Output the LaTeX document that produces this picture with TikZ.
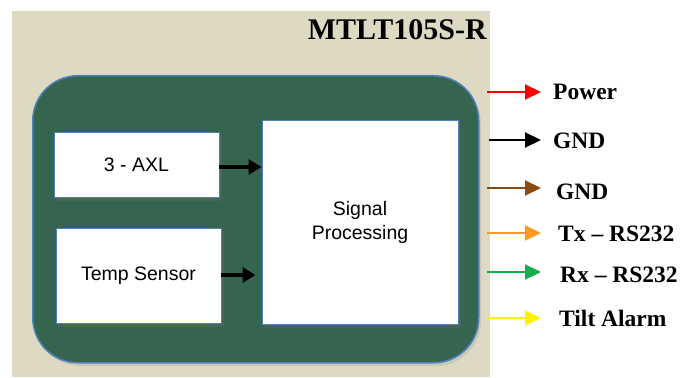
\documentclass[tikz,border=0pt]{standalone}
\usepackage{fontspec}
\setmainfont{Liberation Serif}
\setsansfont{Liberation Sans}
\usetikzlibrary{arrows.meta}
\definecolor{beige}{HTML}{DDD9C3}
\definecolor{dgreen}{HTML}{36654F}
\definecolor{bblue}{HTML}{4F81BD}
\definecolor{cbrown}{HTML}{8B4A14}
\definecolor{corange}{HTML}{FF9A1E}
\definecolor{cgreen}{HTML}{14B050}
\definecolor{cyellow}{HTML}{FFF200}
\tikzset{
  blk/.style={draw=bblue, line width=1pt, fill=white, inner sep=0pt,
    font=\sffamily\fontsize{19.5}{23}\selectfont, align=center},
  inarrow/.style={line width=4pt, -{Triangle[length=13pt,width=15pt]}},
  outarrow/.style={line width=2pt, -{Triangle[length=16pt,width=15pt]}, shorten >=12pt},
  lbl/.style={anchor=west, inner sep=0pt, font=\bfseries\fontsize{23.5}{26}\selectfont}
}
\begin{document}
\begin{tikzpicture}[x=1pt,y=-1pt]
\useasboundingbox (0,0) rectangle (687,377);
\fill[white] (0,0) rectangle (687,377);
% panel
\node[fill=beige, minimum width=478pt, minimum height=366pt, inner sep=0pt, anchor=north west] (panel) at (12,11) {};
\node[anchor=east, inner sep=0pt, font=\bfseries\fontsize{30}{32}\selectfont] (title) at (487,30) {MTLT105S-R};
% body
\fill[black!35, opacity=0.35, rounded corners=45pt] (35,79) rectangle (481,366);
\node[draw=bblue, line width=1.5pt, fill=dgreen, rounded corners=45pt, minimum width=446pt, minimum height=287pt, inner sep=0pt, anchor=north west] (body) at (32,75) {};
% shadows of boxes
\fill[black!60, opacity=0.4] (56,135) rectangle (222,201);
\fill[black!60, opacity=0.4] (58,231) rectangle (224,327);
\fill[black!60, opacity=0.4] (264,123) rectangle (461,328);
% boxes
\node[blk, minimum width=165pt, minimum height=65pt] (axl) at (136.5,164.5) {3 - AXL};
\node[blk, minimum width=165pt, minimum height=95pt] (temp) at (138.5,275.5) {Temp Sensor};
\node[blk, minimum width=196pt, minimum height=204pt] (sig) at (360,222) {Signal\\[1pt]Processing};
% inner arrows
\coordinate (a1) at (219,167);
\coordinate (a2) at (221,275);
\draw[inarrow] (a1) -- (a1 -| sig.west);
\draw[inarrow, shorten >=6pt] (a2) -- (a2 -| sig.west);
% outputs
\node[lbl] (l1) at (553,92) {Power};
\node[lbl] (l2) at (553,141) {GND};
\node[lbl] (l3) at (556,192) {GND};
\node[lbl] (l4) at (558,234) {Tx – RS232};
\node[lbl] (l5) at (560,275) {Rx – RS232};
\node[lbl] (l6) at (559,318) {Tilt Alarm};
\coordinate (s1) at (487,92);
\coordinate (s2) at (489,140);
\coordinate (s3) at (487,188);
\coordinate (s4) at (487,233);
\coordinate (s5) at (487,272);
\coordinate (s6) at (487,318);
\draw[outarrow, red] (s1) -- (s1 -| l1.west);
\draw[outarrow, black] (s2) -- (s2 -| l2.west);
\draw[outarrow, cbrown] (s3) -- ([xshift=-3pt]s3 -| l3.west);
\draw[outarrow, corange] (s4) -- ([xshift=-5pt]s4 -| l4.west);
\draw[outarrow, cgreen] (s5) -- ([xshift=-7pt]s5 -| l5.west);
\draw[outarrow, cyellow] (s6) -- ([xshift=-6pt]s6 -| l6.west);
\end{tikzpicture}
\end{document}
